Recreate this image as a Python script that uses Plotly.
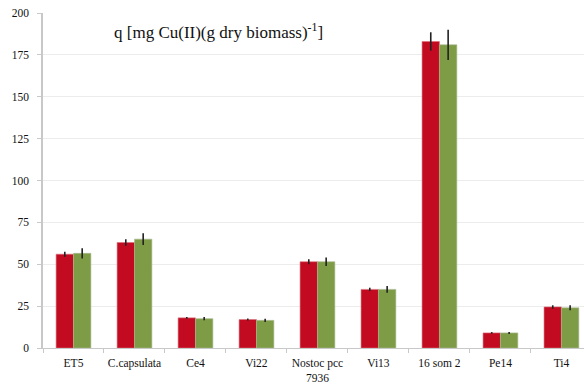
import plotly.graph_objects as go

strains = ["ET5", "C.capsulata", "Ce4", "Vi22", "Nostoc pcc<br>7936", "Vi13", "16 som 2", "Pe14", "Ti4"]
q_red = [56, 63, 18, 17, 51.5, 35, 183, 9, 24.5]
err_red = [1.5, 2, 0.5, 0.6, 1.5, 1, 5.5, 0.5, 1]
q_green = [56.5, 65, 17.5, 16.5, 51.5, 35, 181, 9, 24]
err_green = [3, 3.5, 1, 1, 2.5, 2, 9, 0.6, 1.5]
y_ticks = [0, 25, 50, 75, 100, 125, 150, 175, 200]

serif = "Liberation Serif"

fig = go.Figure()
fig.add_trace(go.Bar(
    x=strains, y=q_red,
    marker=dict(color="#C20A20", line=dict(color="#d8707a", width=0.6)),
    error_y=dict(type="data", array=err_red, color="#222222", thickness=1.6, width=0),
))
fig.add_trace(go.Bar(
    x=strains, y=q_green,
    marker=dict(color="#7E9C45", line=dict(color="#a8b890", width=0.6)),
    error_y=dict(type="data", array=err_green, color="#222222", thickness=1.6, width=0),
))

fig.add_annotation(
    text="q [mg Cu(II)(g dry biomass)<sup>-1</sup>]",
    xref="paper", yref="y", x=0.127, y=189, xanchor="left", yanchor="middle",
    showarrow=False, font=dict(family=serif, size=17, color="#111111"),
)

fig.update_layout(
    width=584, height=389,
    margin=dict(l=43, r=0, t=13, b=41, autoexpand=False),
    paper_bgcolor="white", plot_bgcolor="white",
    showlegend=False,
    barmode="group", bargap=0.43, bargroupgap=0,
    font=dict(family=serif, size=11, color="#333333"),
)
fig.update_xaxes(
    range=[-0.5, 8.37], tickangle=0, automargin=False,
    showline=True, linecolor="#c8c8c8", linewidth=1,
    ticks="outside", tickson="boundaries", ticklen=4, tickcolor="#c8c8c8",
    showgrid=False, ticklabelstandoff=4,
    tickfont=dict(family=serif, size=11.5, color="#111111"),
)
fig.update_yaxes(
    range=[0, 200], tickvals=y_ticks, automargin=False,
    showline=True, linecolor="#c8c8c8", linewidth=1.5,
    ticks="outside", ticklen=4, tickcolor="#c8c8c8",
    showgrid=True, gridcolor="#ececec", gridwidth=1,
    zeroline=False, ticklabelstandoff=6,
    tickfont=dict(family=serif, size=11.5, color="#111111"),
)

fig.write_html("out.html")
